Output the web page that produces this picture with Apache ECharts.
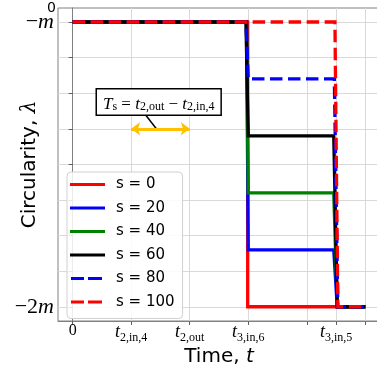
<!DOCTYPE html>
<html><head><meta charset="utf-8">
<script src="https://cdn.jsdelivr.net/npm/echarts@6/dist/echarts.min.js"></script>
<style>html,body{margin:0;padding:0;background:#fff}#c{width:377px;height:372px}</style>
</head><body><div id="c"></div>
<script>
// ---- data (m = 8 units, lambda in units; -m = -8, -2m = -16) ----
const seriesNames = ['s = 0', 's = 20', 's = 40', 's = 60', 's = 80', 's = 100'];
const seriesColors = ['#ff0000', '#0000ff', '#008000', '#000000', '#0000ff', '#ff0000'];
const seriesDashed = [false, false, false, false, true, true];
const timeS0 = [0, 2.99, 2.99, 5.0];
const lamS0 = [-8, -8, -16, -16];
const timeS20 = [0, 2.97, 3.0, 4.46, 4.52, 5.0];
const lamS20 = [-8, -8, -14.4, -14.4, -16, -16];
const timeS40 = [0, 2.97, 3.0, 4.46, 4.52, 5.0];
const lamS40 = [-8, -8, -12.8, -12.8, -16, -16];
const timeS60 = [0, 2.96, 3.0, 4.46, 4.52, 5.0];
const lamS60 = [-8, -8, -11.2, -11.2, -16, -16];
const timeS80 = [0, 2.96, 3.0, 4.47, 4.53, 5.0];
const lamS80 = [-8, -8, -9.6, -9.6, -16, -16];
const timeS100 = [0, 4.48, 4.53, 5.0];
const lamS100 = [-8, -8, -16, -16];
const xTickValues = [0, 1, 2, 3, 4, 4.5, 5];
const xLabelValues = [0, 1, 2, 3, 4.5];
const xLabelTexts = ['{z|0}', '{t|t}{s|2,in,4}', '{t|t}{s|2,out}', '{t|t}{s|3,in,6}', '{t|t}{s|3,in,5}'];
const yTickValues = [-16, -15, -14, -13, -12, -11, -10, -9, -8];
const yLabelValues = [-16, -8];
const yLabelTexts = ['{n|−2}{i|m}', '{n|−}{i|m}'];
const yTopLabel = '0';
const arrowStart = [1, -11], arrowEnd = [2, -11];
const pointerStart = [1.23, -10.58], pointerEnd = [1.43, -11];
const boxAnchor = [1.47, -10.25];

const times = [timeS0, timeS20, timeS40, timeS60, timeS80, timeS100];
const lams = [lamS0, lamS20, lamS40, lamS60, lamS80, lamS100];

const yMin = -16.40, yMax = -7.607;
const iconSolid = 'path://M0,0L0,0M35,14L35,14M0,5.5H35V8.5H0Z';
const iconDashed = 'path://M0,0L0,0M35,14L35,14M1,5.5H14V8.5H1ZM18,5.5H32V8.5H18Z';
const chart = echarts.init(document.getElementById('c'), null, {renderer: 'canvas'});

const series = seriesNames.map((n, i) => ({
  name: n, type: 'line', symbol: 'none', animation: false, z: 2 + i,
  data: times[i].map((t, k) => [t, lams[i][k]]),
  lineStyle: {color: seriesColors[i], width: 3.3, type: seriesDashed[i] ? [12.5, 5.5] : 'solid', cap: 'butt', join: 'miter'},
  itemStyle: {color: seriesColors[i]},
  emphasis: {disabled: true}
}));

series.push({
  name: 'annot', type: 'line', data: [], animation: false, z: 10,
  markLine: {
    silent: true, animation: false, symbol: 'none',
    label: {show: false},
    data: [
      [{coord: pointerStart, lineStyle: {color: '#000', width: 1.5, type: 'solid'}, symbol: 'none'}, {coord: pointerEnd, symbol: 'none'}],
      [{coord: arrowStart, lineStyle: {color: '#FFC000', width: 3, type: 'solid'}, symbol: 'arrow', symbolSize: [10, 9]}, {coord: arrowEnd, symbol: 'arrow', symbolSize: [10, 9]}]
    ]
  },
  markPoint: {
    silent: true, animation: false,
    symbol: 'rect', symbolSize: 1, itemStyle: {color: 'rgba(0,0,0,0)'},
    data: [{coord: boxAnchor}],
    label: {
      show: true, position: 'inside',
      formatter: '{T|T}{s|s}{o| = }{t|t}{s|2,out}{o| − }{t|t}{s|2,in,4}',
      backgroundColor: '#fff', borderColor: '#000', borderWidth: 1.5,
      padding: [3, 6, 2, 6],
      rich: {
        T: {fontFamily: 'Liberation Serif', fontStyle: 'italic', fontSize: 17, color: '#000', verticalAlign: 'bottom', lineHeight: 20},
        t: {fontFamily: 'Liberation Serif', fontStyle: 'italic', fontSize: 17, color: '#000', verticalAlign: 'bottom', lineHeight: 20},
        o: {fontFamily: 'Liberation Serif', fontSize: 17, color: '#000', verticalAlign: 'bottom', lineHeight: 20},
        s: {fontFamily: 'Liberation Serif', fontSize: 12, color: '#000', verticalAlign: 'bottom', lineHeight: 16}
      }
    }
  }
});

chart.setOption({
  animation: false,
  grid: {left: 58, top: 8, right: -3, bottom: 51, show: true, borderColor: '#808080', borderWidth: 1, containLabel: false, outerBoundsMode: 'none'},
  legend: {
    data: seriesNames.map((n, i) => ({name: n, icon: seriesDashed[i] ? iconDashed : iconSolid})),
    orient: 'vertical', left: 67, top: 172,
    itemWidth: 35, itemHeight: 14, itemGap: 8.5,
    padding: [5, 8, 9, 3],
    backgroundColor: 'rgba(255,255,255,0.85)', borderColor: '#d0d0d0', borderWidth: 1, borderRadius: 4,
    textStyle: {fontFamily: 'DejaVu Sans', fontSize: 15, color: '#000', padding: [0, 0, 0, 6]},
    selectedMode: false
  },
  xAxis: {
    type: 'value', min: -0.25, max: 5.25,
    name: '{a|Time, }{b|t}', nameLocation: 'middle', nameGap: 26, nameMoveOverlap: false,
    nameTextStyle: {rich: {a: {fontFamily: 'DejaVu Sans', fontSize: 20, color: '#000'}, b: {fontFamily: 'DejaVu Sans', fontStyle: 'italic', fontSize: 20, color: '#000'}}},
    axisLine: {show: true, lineStyle: {color: '#808080', width: 1}},
    axisTick: {show: true, length: 4, customValues: xTickValues, lineStyle: {color: '#606060'}},
    splitLine: {show: true, lineStyle: {color: '#d9d9d9', width: 1}},
    axisLabel: {
      customValues: xLabelValues, margin: 2, hideOverlap: false,
      formatter: (v) => xLabelTexts[xLabelValues.indexOf(v)] || '',
      rich: {
        z: {fontFamily: 'Liberation Serif', fontSize: 16, color: '#000', lineHeight: 18, verticalAlign: 'top'},
        t: {fontFamily: 'Liberation Serif', fontStyle: 'italic', fontSize: 18, color: '#000', lineHeight: 18, verticalAlign: 'top'},
        s: {fontFamily: 'Liberation Serif', fontSize: 12, color: '#000', lineHeight: 18, verticalAlign: 'top', padding: [9, 0, 0, 0]}
      }
    }
  },
  yAxis: [{
    type: 'value', min: yMin, max: yMax,
    name: '{a|Circularity, }{b|λ}', nameLocation: 'middle', nameGap: 18, nameRotate: 90, nameMoveOverlap: false,
    nameTextStyle: {rich: {a: {fontFamily: 'DejaVu Sans', fontSize: 20, color: '#000'}, b: {fontFamily: 'DejaVu Serif', fontStyle: 'italic', fontSize: 20, color: '#000'}}},
    axisLine: {show: true, lineStyle: {color: '#808080', width: 1}},
    axisTick: {show: true, length: 4, customValues: yTickValues, lineStyle: {color: '#606060'}},
    splitLine: {show: true, lineStyle: {color: '#d9d9d9', width: 1}},
    axisLabel: {
      customValues: yLabelValues, margin: 4, hideOverlap: false,
      formatter: (v) => yLabelTexts[yLabelValues.indexOf(v)] || '',
      rich: {
        n: {fontFamily: 'Liberation Serif', fontSize: 22, color: '#000'},
        i: {fontFamily: 'Liberation Serif', fontStyle: 'italic', fontSize: 22, color: '#000'}
      }
    }
  }, {
    type: 'value', min: yMin, max: yMax, position: 'left', offset: 0,
    axisLine: {show: false}, axisTick: {show: false}, splitLine: {show: false},
    axisLabel: {
      show: true, customValues: [yMax - 0.01], margin: 2, hideOverlap: false, showMaxLabel: true,
      formatter: () => yTopLabel,
      fontFamily: 'DejaVu Sans', fontSize: 14, color: '#000'
    }
  }],
  series: series
});
</script></body></html>
